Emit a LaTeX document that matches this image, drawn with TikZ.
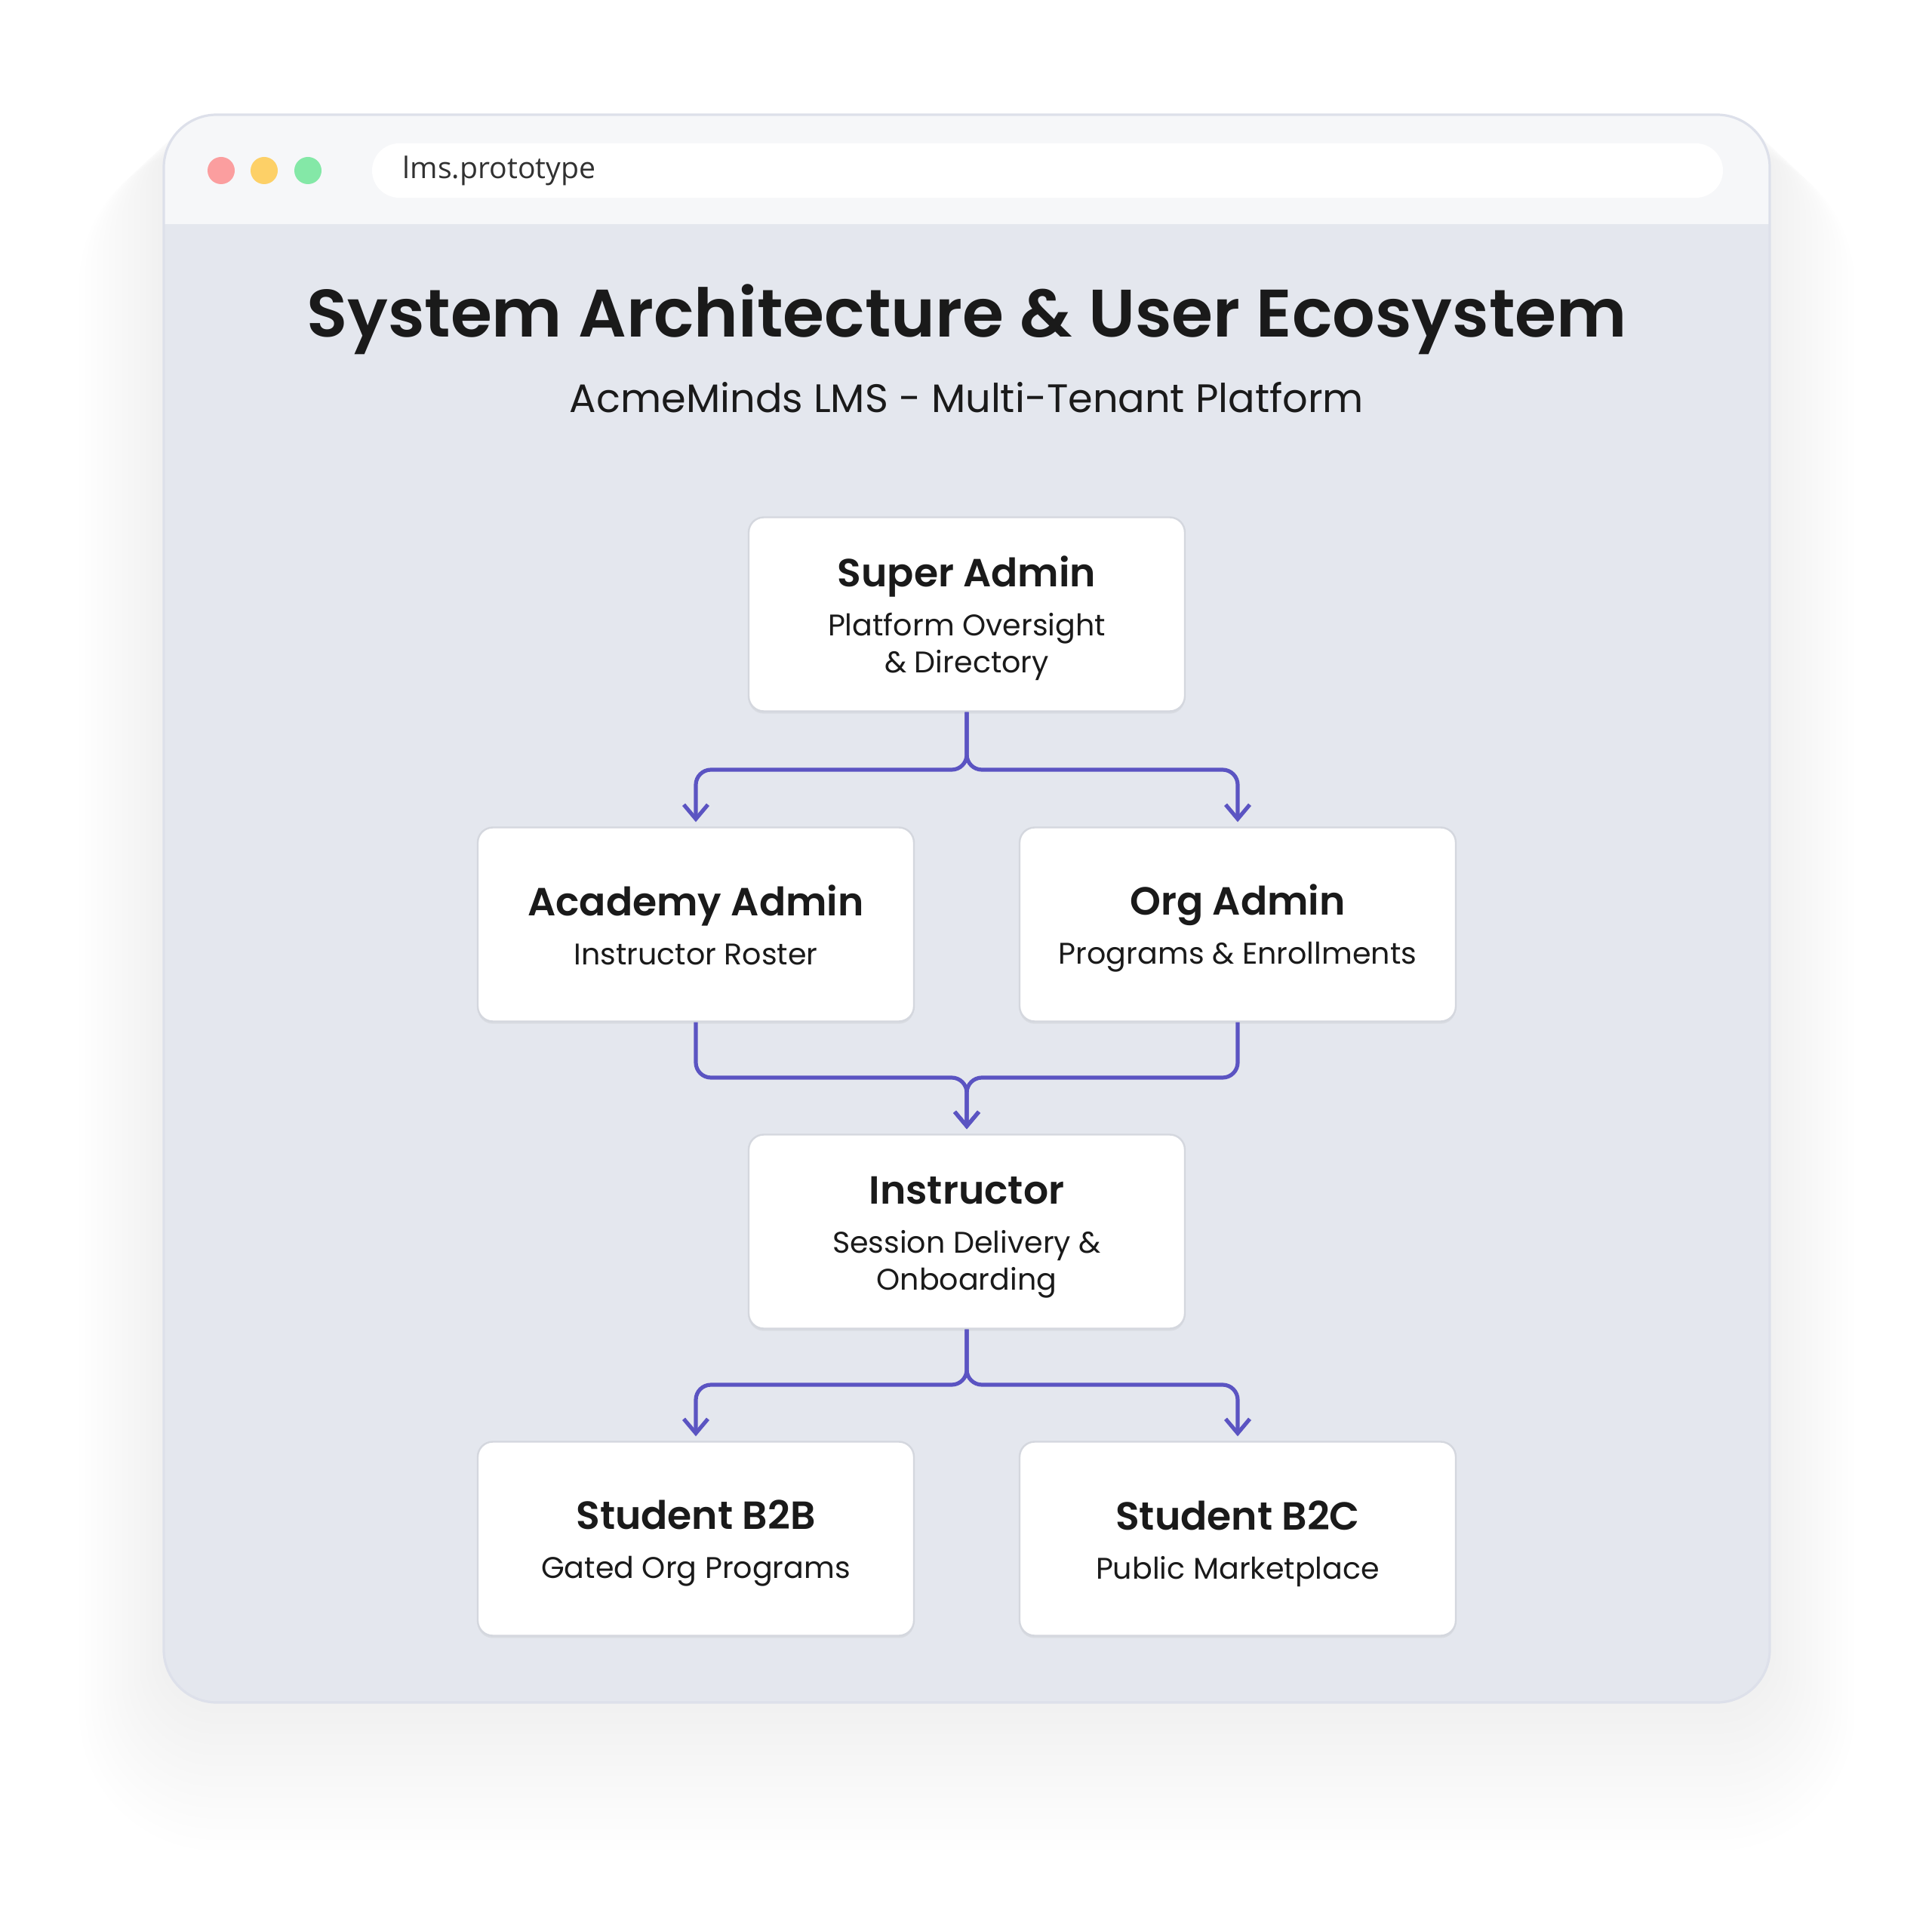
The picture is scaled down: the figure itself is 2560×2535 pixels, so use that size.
\documentclass[tikz,border=0pt]{standalone}
\usepackage{fontspec}
\setmainfont{Poppins}[BoldFont={Poppins SemiBold}]
\newfontfamily\urlfont{Open Sans}
\usetikzlibrary{arrows.meta,shadows}

\definecolor{winbody}{HTML}{E4E7EE}
\definecolor{winbar}{HTML}{F6F7F9}
\definecolor{winline}{HTML}{DDE0EA}
\definecolor{boxline}{HTML}{D4D7DE}
\definecolor{ink}{HTML}{1A1A1A}
\definecolor{flowline}{HTML}{5B54C2}
\definecolor{dotred}{HTML}{FB9E9F}
\definecolor{dotyellow}{HTML}{FDD067}
\definecolor{dotgreen}{HTML}{84E8A7}

\tikzset{
	rolebox/.style={draw=boxline, line width=0.6pt, fill=white,
		rounded corners=5pt, minimum width=144.5pt, minimum height=64.25pt,
		align=center, inner sep=0pt, text=ink,
		font=\fontsize{9.9}{12.25}\selectfont,
		drop shadow={shadow xshift=0pt, shadow yshift=-0.8pt, opacity=0.10}},
	flow/.style={draw=flowline, line width=1.3pt, rounded corners=5pt,
		shorten >=1.5pt, -{Straight Barb[length=4.75pt,width=8pt]}},
}
% role title line, then the description lines
\newcommand{\role}[2]{{\fontsize{13}{16}\selectfont\bfseries
	\rule{0pt}{12.9pt}#1}\\[4pt]#2\rule[-2.6pt]{0pt}{2.6pt}}

\begin{document}
\begin{tikzpicture}[x=0.25pt, y=-0.25pt]

	\useasboundingbox (0,0) rectangle (2560,2535);

	% soft window shadow
	\foreach \i in {1,...,14}
		\fill[black, opacity=0.0035, rounded corners=17.5pt+\i*2pt]
			(217-\i*8,152+\i*3) rectangle (2345+\i*8,2256+\i*14);

	% window
	\fill[winbody, rounded corners=17.5pt] (217,152) rectangle (2345,2256);
	\begin{scope}
		\clip[rounded corners=17.5pt] (217,152) rectangle (2345,2256);
		\fill[winbar] (217,152) rectangle (2345,297);
	\end{scope}
	\draw[winline, line width=0.8pt, rounded corners=17.5pt]
		(217,152) rectangle (2345,2256);

	\fill[dotred] (293,226) circle (4.5pt);
	\fill[dotyellow] (350,226) circle (4.5pt);
	\fill[dotgreen] (408,226) circle (4.5pt);

	\fill[white, rounded corners=9pt] (493,190) rectangle (2283,262);
	\node[anchor=base west, inner sep=0pt, text=ink!90,
		font=\urlfont\fontsize{9.8}{11}\selectfont] (url) at (533,237)
		{lms.prototype};

	% headings
	\node[anchor=base, text=ink, font=\fontsize{22.25}{27}\selectfont\bfseries]
		(title) at (1281,447) {System Architecture \& User Ecosystem};
	\node[anchor=base, text=ink, font=\fontsize{13.15}{16}\selectfont]
		(subtitle) at (1281,547) {AcmeMinds LMS - Multi-Tenant Platform};

	% roles
	\node[rolebox] (super) at (1281,814)
		{\role{Super Admin}{Platform Oversight\\ \& Directory}};
	\node[rolebox] (academy) at (922,1225)
		{\role{Academy Admin}{Instructor Roster}};
	\node[rolebox] (org) at (1640,1225)
		{\role{Org Admin}{Programs \& Enrollments}};
	\node[rolebox] (instructor) at (1281,1632)
		{\role{Instructor}{Session Delivery \&\\ Onboarding}};
	\node[rolebox] (b2b) at (922,2039)
		{\role{Student B2B}{Gated Org Programs}};
	\node[rolebox] (b2c) at (1640,2039)
		{\role{Student B2C}{Public Marketplace}};

	% connectors
	\coordinate (split1) at (1281,1020);
	\coordinate (merge) at (1281,1428);
	\coordinate (split2) at (1281,1835);

	\draw[flow] (super.south) -- (split1) -| (academy.north);
	\draw[flow] (super.south) -- (split1) -| (org.north);

	\draw[flow] (academy.south) |- (merge) -- (instructor.north);
	\draw[flow] (org.south) |- (merge) -- (instructor.north);

	\draw[flow] (instructor.south) -- (split2) -| (b2b.north);
	\draw[flow] (instructor.south) -- (split2) -| (b2c.north);

\end{tikzpicture}
\end{document}
